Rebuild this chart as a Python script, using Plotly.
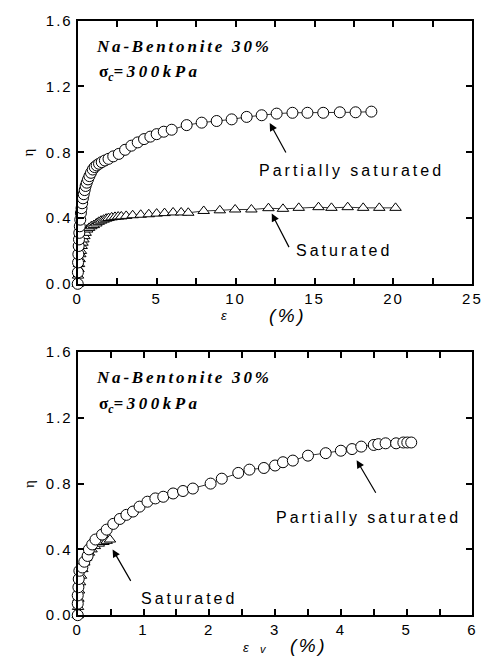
import plotly.graph_objects as go

# ---- data: stress ratio eta vs axial strain (top) and volumetric strain (bottom)
strain_ps = [0, 0.01, 0.02, 0.04, 0.06, 0.08, 0.10, 0.13, 0.16, 0.20, 0.24, 0.28, 0.33, 0.38,
             0.44, 0.50, 0.57, 0.65, 0.74, 0.84, 0.95, 1.07, 1.20, 1.35, 1.52, 1.72, 1.95, 2.25,
             2.60, 3.00, 3.40, 3.80, 4.20, 4.60, 5.00, 5.45, 5.95, 6.90, 7.85, 8.80, 9.75, 10.70,
             11.65, 12.60, 13.60, 14.55, 15.55, 16.60, 17.60, 18.60]
eta_ps = [0, 0.07, 0.13, 0.18, 0.23, 0.27, 0.31, 0.35, 0.39, 0.43, 0.46, 0.49, 0.52, 0.545,
          0.57, 0.595, 0.615, 0.635, 0.655, 0.675, 0.695, 0.71, 0.72, 0.73, 0.74, 0.75, 0.76, 0.775,
          0.79, 0.815, 0.84, 0.86, 0.88, 0.895, 0.91, 0.925, 0.937, 0.965, 0.98, 0.99, 1.0, 1.015,
          1.025, 1.035, 1.04, 1.04, 1.04, 1.043, 1.043, 1.047]

strain_s = [0, 0.02, 0.05, 0.08, 0.12, 0.16, 0.20, 0.25, 0.30, 0.36, 0.42, 0.50, 0.60, 0.72,
            0.86, 1.02, 1.18, 1.33, 1.48, 1.64, 1.80, 1.95, 2.15, 2.36, 2.56, 2.76, 3.07, 3.48,
            3.99, 4.50, 5.00, 5.50, 6.04, 6.55, 7.00, 7.98, 9.00, 9.97, 11.00, 12.08, 13.00, 14.00,
            15.25, 16.07, 17.10, 18.08, 19.10, 20.13]
eta_s = [0, 0.05, 0.09, 0.12, 0.15, 0.18, 0.20, 0.23, 0.25, 0.27, 0.29, 0.31, 0.33, 0.34,
         0.35, 0.357, 0.367, 0.377, 0.384, 0.39, 0.396, 0.40, 0.404, 0.407, 0.409, 0.41, 0.413, 0.417,
         0.42, 0.423, 0.427, 0.43, 0.434, 0.434, 0.432, 0.443, 0.447, 0.452, 0.452, 0.46, 0.456, 0.462,
         0.466, 0.462, 0.466, 0.462, 0.462, 0.462]

ev_ps = [0, 0, 0, 0.01, 0.015, 0.025, 0.07, 0.10, 0.15, 0.17, 0.22, 0.27, 0.37, 0.44, 0.54,
         0.64, 0.74, 0.84, 0.94, 1.06, 1.18, 1.30, 1.45, 1.60, 1.75, 2.02, 2.19, 2.44, 2.61, 2.83,
         3.00, 3.12, 3.27, 3.50, 3.77, 4.00, 4.17, 4.31, 4.50, 4.57, 4.68, 4.84, 4.95, 5.01, 5.07]
eta_ps_v = [0, 0.07, 0.12, 0.17, 0.22, 0.27, 0.29, 0.325, 0.36, 0.40, 0.43, 0.46, 0.49, 0.52, 0.555,
            0.585, 0.61, 0.63, 0.66, 0.69, 0.71, 0.72, 0.74, 0.755, 0.77, 0.80, 0.83, 0.865, 0.885, 0.895,
            0.91, 0.93, 0.94, 0.97, 0.985, 1.0, 1.01, 1.025, 1.035, 1.04, 1.045, 1.045, 1.05, 1.05, 1.05]

ev_s = [0, 0.005, 0.01, 0.02, 0.035, 0.05, 0.07, 0.10, 0.13, 0.17, 0.21, 0.26, 0.32, 0.39, 0.44, 0.49]
eta_s_v = [0, 0.05, 0.10, 0.15, 0.20, 0.24, 0.28, 0.32, 0.35, 0.38, 0.40, 0.42, 0.435, 0.445, 0.452, 0.46]

x1_ticks = [0, 2.5, 5, 7.5, 10, 12.5, 15, 17.5, 20, 22.5, 25]
x2_ticks = [0, 0.5, 1, 1.5, 2, 2.5, 3, 3.5, 4, 4.5, 5, 5.5, 6]
y_ticks = [0.0, 0.4, 0.8, 1.2, 1.6]

W, H = 496, 668
SANS = "Liberation Sans"
SERIF = "Liberation Serif"


def spaced(s, sp=2):
    return f'<span style="letter-spacing:{sp}px">{s}</span>'


def px(p):
    return p / W


def py(p):
    return 1 - p / H


def major_text(vals, step):
    out = []
    for v in vals:
        if abs(v / step - round(v / step)) < 1e-9:
            out.append(spaced(f"{v:g}"))
        else:
            out.append("")
    return out


fig = go.Figure()

line_style = dict(color="black", width=0.8)
tri = dict(symbol="triangle-up", size=10, color="white", line=dict(color="black", width=1))
circ = dict(symbol="circle", size=11, color="white", line=dict(color="black", width=1))

fig.add_trace(go.Scatter(x=strain_s, y=eta_s, mode="lines+markers", line=line_style,
                         marker=tri, cliponaxis=False, xaxis="x", yaxis="y", showlegend=False))
fig.add_trace(go.Scatter(x=strain_ps, y=eta_ps, mode="lines+markers", line=line_style,
                         marker=circ, cliponaxis=False, xaxis="x", yaxis="y", showlegend=False))
fig.add_trace(go.Scatter(x=ev_s, y=eta_s_v, mode="lines+markers", line=line_style,
                         marker=tri, cliponaxis=False, xaxis="x2", yaxis="y2", showlegend=False))
fig.add_trace(go.Scatter(x=ev_ps, y=eta_ps_v, mode="lines+markers", line=line_style,
                         marker=circ, cliponaxis=False, xaxis="x2", yaxis="y2", showlegend=False))

axis_common = dict(showline=True, linewidth=2, linecolor="black", mirror="ticks",
                   ticks="inside", ticklen=6, tickwidth=1.5, tickcolor="black",
                   showgrid=False, zeroline=False,
                   tickfont=dict(family=SANS, size=15, color="black"))

xdom = [px(75), px(482)]
fig.update_layout(
    width=W, height=H,
    margin=dict(l=0, r=0, t=0, b=0),
    paper_bgcolor="white", plot_bgcolor="white",
    xaxis=dict(domain=xdom, range=[0, 25], anchor="y", tickmode="array",
               tickvals=x1_ticks, ticktext=major_text(x1_ticks, 5), **axis_common),
    yaxis=dict(domain=[py(282), py(12)], range=[0, 1.6], anchor="x", tickmode="array",
               tickvals=y_ticks, ticktext=[spaced(f"{v:.1f}") for v in y_ticks], **axis_common),
    xaxis2=dict(domain=xdom, range=[0, 6], anchor="y2", tickmode="array",
                tickvals=x2_ticks, ticktext=major_text(x2_ticks, 1), **axis_common),
    yaxis2=dict(domain=[py(622), py(352)], range=[0, 1.6], anchor="x2", tickmode="array",
                tickvals=y_ticks, ticktext=[spaced(f"{v:.1f}") for v in y_ticks], **axis_common),
)

ann = []


def text(x, y, s, size=16, family=SANS, xanchor="center", angle=0):
    ann.append(dict(x=px(x), y=py(y), xref="paper", yref="paper", text=s, showarrow=False,
                    xanchor=xanchor, yanchor="middle", textangle=angle,
                    font=dict(family=family, size=size, color="black")))


def arrow(xr, yr, x, y, ax, ay):
    ann.append(dict(x=x, y=y, xref=xr, yref=yr, ax=ax, ay=ay, axref="pixel", ayref="pixel",
                    text="", showarrow=True, arrowhead=2, arrowsize=1.3, arrowwidth=1.2,
                    arrowcolor="black"))


for dy in (0, 340):
    text(92, 38 + dy, "<b><i>" + spaced("Na-Bentonite 30%", 2.8) + "</i></b>", size=17,
         family=SERIF, xanchor="left")
    text(95, 66 + dy, "<b>σ</b><b><i><sub>c</sub>" + spaced("=300kPa", 3.5) + "</i></b>", size=17,
         family=SERIF, xanchor="left")
    text(24, 147 + dy, "η", size=15, family=SERIF, angle=-90)

# series labels with pointer arrows
text(357, 166, spaced("Partially saturated", 3))
arrow("x", "y", 12.16, 0.978, 17, 31)
text(350, 248, spaced("Saturated", 3))
arrow("x", "y", 12.29, 0.427, 18, 35)
text(375, 522, spaced("Partially saturated", 3))
arrow("x2", "y2", 4.24, 0.942, 20, 34)
text(190, 605, spaced("Saturated", 3))
arrow("x2", "y2", 0.53, 0.40, 19, 33)

# x-axis titles
text(226, 314, "<i>ε</i>", size=13, family=SANS)
text(291, 314, "<i>" + spaced("(%)", 2.5) + "</i>", size=19, family=SANS)
text(249, 655, "<i>ε</i>", size=13, family=SANS)
text(267, 657, "<i>v</i>", size=11, family=SANS)
text(313, 653, "<i>" + spaced("(%)", 2.5) + "</i>", size=19, family=SANS)

fig.update_layout(annotations=ann)
fig.write_html("out.html")
